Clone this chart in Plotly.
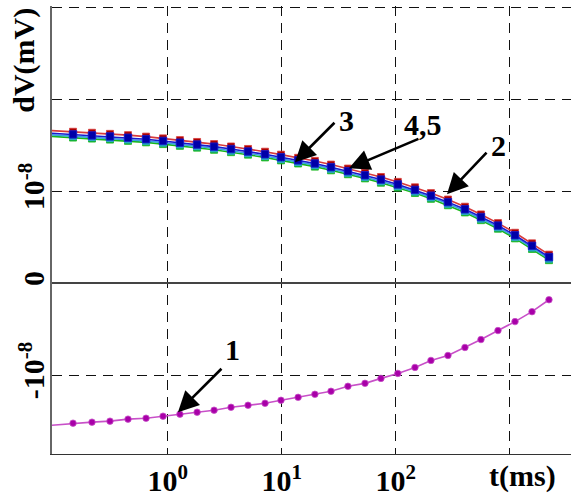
import plotly.graph_objects as go
import numpy as np

# time samples (ms); first sample lies just left of the visible range
t_ms = [0.07, 0.148, 0.217, 0.312, 0.449, 0.646, 0.91, 1.28, 1.81, 2.55, 3.59, 5.06, 7.13,
        9.84, 13.9, 19.5, 27.0, 38.0, 53.6, 74.0, 104, 147, 203, 286, 403, 557, 785,
        1107, 1560, 2198]

# dV in symmetric-log axis units (0 -> 0, +/-1 -> +/-1e-8 mV, 2 -> 1e-7 ...)
dv_curve1 = [-1.560, -1.523, -1.512, -1.501, -1.479, -1.469, -1.447, -1.425, -1.404, -1.382,
             -1.350, -1.328, -1.307, -1.274, -1.242, -1.209, -1.176, -1.122, -1.090, -1.036,
             -0.982, -0.917, -0.841, -0.787, -0.700, -0.614, -0.516, -0.419, -0.311, -0.181]
dv_curve2 = [1.668, 1.645, 1.634, 1.622, 1.608, 1.592, 1.573, 1.554, 1.534, 1.511, 1.485,
             1.458, 1.428, 1.396, 1.362, 1.328, 1.288, 1.245, 1.200, 1.153, 1.100, 1.041,
             0.978, 0.908, 0.830, 0.746, 0.652, 0.547, 0.432, 0.309]
dv_curve3 = [1.606, 1.582, 1.571, 1.560, 1.546, 1.530, 1.511, 1.492, 1.472, 1.449, 1.423,
             1.396, 1.366, 1.334, 1.300, 1.266, 1.226, 1.183, 1.138, 1.091, 1.038, 0.979,
             0.916, 0.846, 0.768, 0.684, 0.591, 0.486, 0.371, 0.249]
dv_curve4 = [1.622, 1.598, 1.587, 1.576, 1.562, 1.546, 1.527, 1.508, 1.488, 1.465, 1.439,
             1.412, 1.382, 1.350, 1.316, 1.282, 1.242, 1.199, 1.154, 1.107, 1.054, 0.995,
             0.932, 0.862, 0.784, 0.700, 0.607, 0.502, 0.387, 0.265]
dv_curve5 = [1.640, 1.616, 1.605, 1.594, 1.580, 1.564, 1.545, 1.526, 1.506, 1.483, 1.457,
             1.430, 1.400, 1.368, 1.334, 1.300, 1.260, 1.217, 1.172, 1.125, 1.072, 1.013,
             0.950, 0.880, 0.802, 0.718, 0.625, 0.520, 0.405, 0.283]

x_tickvals = [1, 10, 100, 1000]
x_ticktext = ["10<sup>0</sup>", "10<sup>1</sup>", "10<sup>2</sup>", ""]
y_tickvals = [-1, 0, 1, 2, 3]
y_ticktext = ["-10<sup>-8</sup>", "0", "10<sup>-8</sup>", "", ""]

FONT = "Liberation Serif"
FSIZE = 30

fig = go.Figure()

def add_curve(y, line_col, mk_col, symbol, size):
    fig.add_trace(go.Scatter(
        x=t_ms, y=y, mode="lines+markers",
        line=dict(color=line_col, width=1.6),
        marker=dict(symbol=symbol, size=size, color=mk_col,
                    line=dict(width=0.8, color=line_col)),
        showlegend=False))

add_curve(dv_curve2, "#d83a3a", "#a80000", "square", 7)
add_curve(dv_curve3, "#18b818", "#10b040", "square", 7)
add_curve(dv_curve4, "#3aa0e0", "#10b0b0", "square", 7)
add_curve(dv_curve5, "#1a1ad0", "#0000a8", "square", 7.5)
add_curve(dv_curve1, "#c850c8", "#a800a8", "circle", 6.5)

# arrows (tip on the curve, tail offset in pixels)
arrows = [
    (13.05, 1.313, 41, -41),
    (38.8, 1.248, 71, -30),
    (280.5, 0.966, 41, -43),
    (1.23, -1.404, 45, -45),
]
for (xa, ya, ax, ay) in arrows:
    fig.add_annotation(x=np.log10(xa), y=ya, ax=ax, ay=ay, text="", showarrow=True,
                       arrowhead=2, arrowsize=1.6, arrowwidth=2.6, arrowcolor="black",
                       standoff=0, startstandoff=0)

labels = [("3", 37.2, 1.767), ("4,5", 172.6, 1.724), ("2", 801.0, 1.497), ("1", 3.73, -0.722)]
for (txt, xl, yl) in labels:
    fig.add_annotation(x=np.log10(xl), y=yl, text="<b>" + txt + "</b>", showarrow=False,
                       xanchor="center", yanchor="middle",
                       font=dict(family=FONT, size=FSIZE, color="black"))

fig.add_annotation(xref="paper", yref="paper", x=0.9056, y=-0.049, text="<b>t(ms)</b>",
                   showarrow=False, xanchor="center", yanchor="middle",
                   font=dict(family=FONT, size=FSIZE, color="black"))
fig.add_annotation(xref="paper", yref="paper", x=-0.054, y=0.88, text="<b>dV(mV)</b>",
                   showarrow=False, textangle=-90, xanchor="center", yanchor="middle",
                   font=dict(family=FONT, size=FSIZE, color="black"))

fig.update_xaxes(type="log", range=[-1.014, 3.535], tickvals=x_tickvals, ticktext=x_ticktext,
                 showgrid=True, gridcolor="#111", griddash="10px,7px", gridwidth=1,
                 showline=True, linecolor="#333", linewidth=1.2, ticks="",
                 tickfont=dict(family=FONT, size=FSIZE, color="black", weight="bold"),
                 zeroline=False)
fig.update_yaxes(range=[-1.858, 3.012], tickvals=y_tickvals, ticktext=y_ticktext,
                 tickangle=-90, showgrid=True, gridcolor="#111", griddash="10px,7px",
                 gridwidth=1, showline=True, linecolor="#666", linewidth=1.5, ticks="",
                 ticklabelstandoff=-6,
                 zeroline=True, zerolinecolor="#444", zerolinewidth=1.5,
                 tickfont=dict(family=FONT, size=FSIZE, color="black", weight="bold"))

fig.update_layout(width=571, height=497, margin=dict(l=52, r=0, t=6, b=41),
                  plot_bgcolor="white", paper_bgcolor="white")

fig.write_html("out.html")
